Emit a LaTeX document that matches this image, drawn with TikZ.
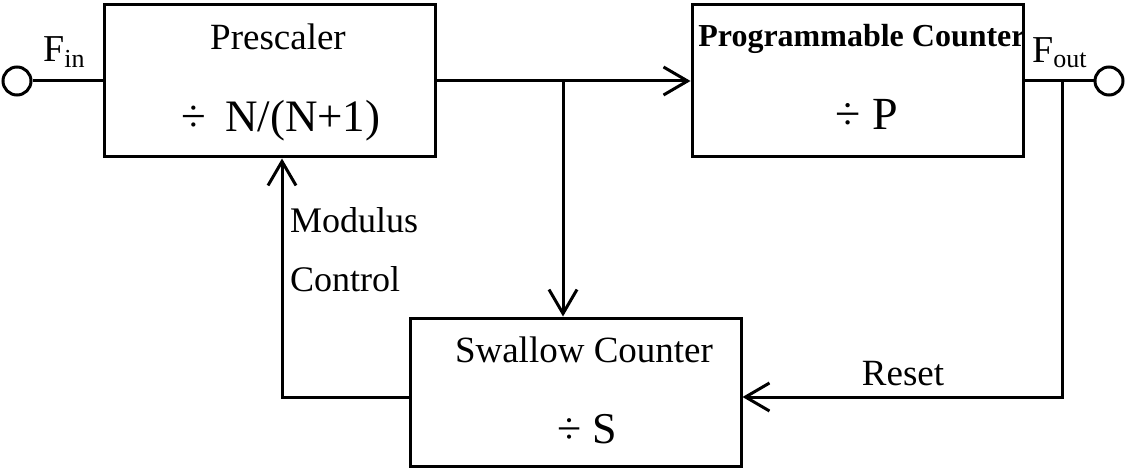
\documentclass[tikz,border=0pt]{standalone}
\usepackage{fontspec}
\setmainfont{Liberation Serif}
\usetikzlibrary{arrows.meta}
\newcommand{\fs}[1]{\fontsize{#1}{#1}\selectfont}
\begin{document}
\begin{tikzpicture}[x=1pt,y=-1pt,
  box/.style={draw,line width=3pt,minimum width=331pt,inner sep=0pt},
  wire/.style={line width=3pt},
  arr/.style={wire,-{Straight Barb[length=24pt,width=28pt,line width=3pt]}},
  term/.style={draw,circle,line width=3pt,minimum size=28pt,inner sep=0pt},
  lbl/.style={inner sep=0pt,anchor=base}]
\useasboundingbox (0,0) rectangle (1125,468);
% boxes
\node[box,minimum height=152pt] (pre) at (269.5,81) {};
\node[box,minimum height=152pt] (prog) at (857.5,81) {};
\node[box,minimum height=148pt] (sw) at (575.5,392) {};
% terminals
\node[term] (in) at (17,81) {};
\node[term] (out) at (1109,81) {};
\coordinate (j1) at (563,81);
\coordinate (j2) at (1062,81);
% texts
\node[lbl] (tpre) at (278,50) {\fs{37}Prescaler};
\node[lbl] (tpre2) at (281,132) {\fs{45}÷\, N/(N+1)};
\node[lbl] (tprog) at (862,47) {\fs{32}\bfseries Programmable Counter};
\node[lbl] (tprog2) at (867,130) {\fs{46}÷ P};
\node[lbl] (tsw) at (584,362) {\fs{37}Swallow Counter};
\node[lbl] (tsw2) at (587,443) {\fs{44}÷ S};
\node[lbl,anchor=base west] (fin) at (43,62) {\fs{38}F\raisebox{-6pt}{\fs{26}in}};
\node[lbl,anchor=base west] (fout) at (1032,63) {\fs{38}F\raisebox{-5pt}{\fs{26}out}};
\node[lbl,anchor=base west] (mod) at (290,232) {\fs{36}Modulus};
\node[lbl,anchor=base west] (ctl) at (290,291) {\fs{36}Control};
\node[lbl] (rst) at (903,385) {\fs{37}Reset};
% connectors
\draw[wire] (in.east) -- (pre.west);
\draw[arr] (pre.east) -- (prog.west);
\draw[arr] (j1) -- (j1 |- sw.north);
\draw[wire] (prog.east) -- (out.west);
\draw[arr] (j2) |- ([yshift=-5pt]sw.east);
\draw[arr] ([yshift=-5pt]sw.west) -| ([xshift=12.5pt]pre.south);
\end{tikzpicture}
\end{document}
